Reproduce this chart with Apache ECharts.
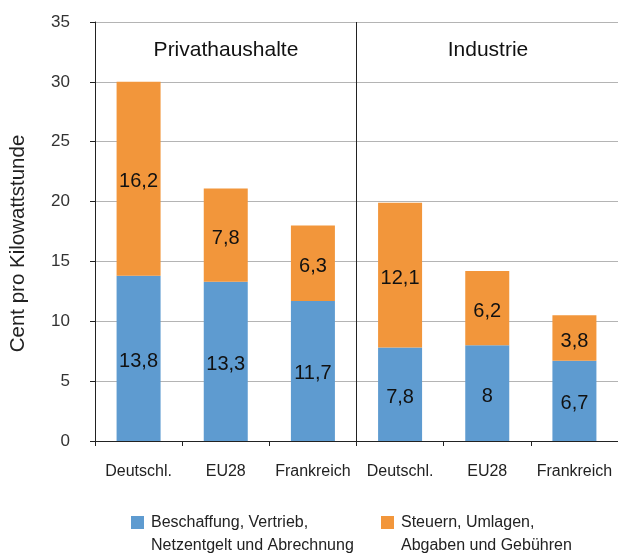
<!DOCTYPE html>
<html><head><meta charset="utf-8">
<script src="https://cdn.jsdelivr.net/npm/echarts@6/dist/echarts.min.js"></script>
<style>html,body{margin:0;padding:0;background:#fff}#c{width:618px;height:555px}</style>
</head><body><div id="c"></div>
<script>
const categories = ['Deutschl.', 'EU28', 'Frankreich', 'Deutschl.', 'EU28', 'Frankreich'];
const groupSize = 3;
const blueName = 'Beschaffung, Vertrieb,\nNetzentgelt und Abrechnung';
const orangeName = 'Steuern, Umlagen,\nAbgaben und Gebühren';
const blueValues = [13.8, 13.3, 11.7, 7.8, 8, 6.7];
const orangeValues = [16.2, 7.8, 6.3, 12.1, 6.2, 3.8];
const groupTitles = ['Privathaushalte', 'Industrie'];
const yTicks = [0, 5, 10, 15, 20, 25, 30, 35];

const sans = '"Liberation Sans", Arial, sans-serif';
const chart = echarts.init(document.getElementById('c'), null, {renderer: 'canvas'});
const fmt = p => String(p.value).replace('.', ',');
const legendText = {fontFamily: sans, fontSize: 16, color: '#222', lineHeight: 23, padding: [0, 0, 0, 2]};
chart.setOption({
  animation: false,
  grid: {left: 94, right: -1, top: 22, bottom: 114},
  xAxis: [{
    type: 'category', data: categories,
    axisLine: {lineStyle: {color: '#222', width: 1}},
    axisTick: {show: true, interval: 0, length: 5, lineStyle: {color: '#222'}},
    axisLabel: {interval: 0, fontFamily: sans, fontSize: 16, color: '#222', margin: 23},
    splitLine: {show: false}
  }, {
    type: 'value', min: 0, max: categories.length, interval: groupSize, position: 'top',
    axisLine: {show: false}, axisTick: {show: false}, axisLabel: {show: false},
    splitLine: {show: true, lineStyle: {color: '#222', width: 1}}
  }],
  yAxis: {
    type: 'value', min: yTicks[0], max: yTicks[yTicks.length - 1], interval: 5,
    name: 'Cent pro Kilowattstunde', nameLocation: 'middle', nameGap: 66,
    nameTextStyle: {fontFamily: sans, fontSize: 20.5, color: '#222', padding: [0, 24, 0, 0]},
    axisLine: {show: true, lineStyle: {color: '#222', width: 1}},
    axisTick: {show: true, length: 5, lineStyle: {color: '#222'}},
    axisLabel: {fontFamily: sans, fontSize: 17, color: '#333', margin: 25},
    splitLine: {show: true, lineStyle: {color: '#b4b4b4', width: 1}}
  },
  legend: [
    {data: [blueName], left: 131, top: 488, padding: 0, itemWidth: 13, itemHeight: 13, icon: 'rect',
     formatter: n => ' \n' + n, textStyle: legendText},
    {data: [orangeName], left: 381, top: 488, padding: 0, itemWidth: 13, itemHeight: 13, icon: 'rect',
     formatter: n => ' \n' + n, textStyle: legendText}
  ],
  graphic: [
    {type: 'text', x: 226, y: 50, style: {text: groupTitles[0], font: '21px ' + sans, fill: '#111', align: 'center', verticalAlign: 'middle'}},
    {type: 'text', x: 488, y: 50, style: {text: groupTitles[1], font: '21px ' + sans, fill: '#111', align: 'center', verticalAlign: 'middle'}}
  ],
  series: [
    {name: blueName, type: 'bar', stack: 't', data: blueValues, barWidth: 44,
     itemStyle: {color: '#5e9bd0'},
     label: {show: true, position: 'inside', offset: [0, 3], formatter: fmt, fontFamily: sans, fontSize: 20, color: '#111'}},
    {name: orangeName, type: 'bar', stack: 't', data: orangeValues, barWidth: 44,
     itemStyle: {color: '#f2963b'},
     label: {show: true, position: 'inside', offset: [0, 3], formatter: fmt, fontFamily: sans, fontSize: 20, color: '#111'}}
  ]
});
</script></body></html>
